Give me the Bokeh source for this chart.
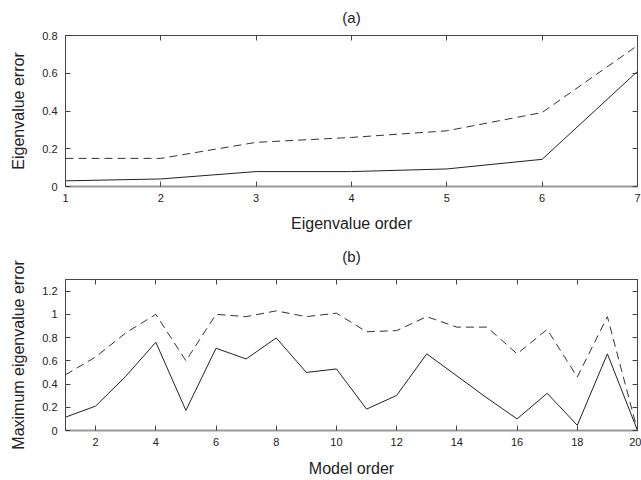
from bokeh.plotting import figure
from bokeh.layouts import column
from bokeh.models import Range1d, LinearAxis, FixedTicker, CustomJSTickFormatter
from bokeh.embed import file_html
from bokeh.resources import INLINE

# ---- data (a) ----
eig_order = [1, 2, 3, 4, 5, 6, 7]
eig_err_solid = [0.03, 0.04, 0.079, 0.079, 0.093, 0.144, 0.61]
eig_err_dashed = [0.149, 0.149, 0.234, 0.26, 0.295, 0.392, 0.747]
a_xticks = [1, 2, 3, 4, 5, 6, 7]
a_yticks = [0, 0.2, 0.4, 0.6, 0.8]
a_ylabels = ["0", "0.2", "0.4", "0.6", "0.8"]

# ---- data (b) ----
model_order = list(range(1, 21))
max_err_solid = [0.115, 0.21, 0.466, 0.76, 0.173, 0.708, 0.616, 0.797, 0.50, 0.53,
                 0.184, 0.302, 0.66, 0.47, 0.28, 0.10, 0.32, 0.045, 0.66, 0.0]
max_err_dashed = [0.48, 0.633, 0.84, 1.0, 0.60, 1.0, 0.98, 1.03, 0.98, 1.01,
                  0.85, 0.86, 0.98, 0.89, 0.89, 0.66, 0.87, 0.46, 0.98, 0.0]
b_xticks = [2, 4, 6, 8, 10, 12, 14, 16, 18, 20]
b_yticks = [0, 0.2, 0.4, 0.6, 0.8, 1.0, 1.2]
b_ylabels = ["0", "0.2", "0.4", "0.6", "0.8", "1", "1.2"]

FONT = "Liberation Sans"


def make_panel(title, xlabel, ylabel, xr, yr, xticks, yticks, ylabels, xs, ys1, ys2,
               height, top, bottom, title_standoff, xlab_standoff):
    p = figure(width=641, height=height, output_backend="svg", toolbar_location=None,
               x_range=Range1d(*xr), y_range=Range1d(*yr),
               min_border_left=65, min_border_right=4,
               min_border_top=top, min_border_bottom=bottom,
               x_axis_label=xlabel, y_axis_label=ylabel)
    p.title.text = title
    p.title.align = "center"
    p.title.vertical_align = "top"
    p.title.text_font = FONT
    p.title.text_font_size = "15px"
    p.title.text_font_style = "normal"
    p.title.text_color = "#222222"
    p.title.standoff = title_standoff
    p.grid.visible = False
    p.outline_line_color = "#444444"
    p.background_fill_color = "white"
    p.border_fill_color = "white"

    p.xaxis.ticker = FixedTicker(ticks=xticks)
    p.yaxis.ticker = FixedTicker(ticks=yticks)
    p.yaxis.major_label_overrides = {t: l for t, l in zip(yticks, ylabels)}
    for ax in p.xaxis + p.yaxis:
        ax.major_tick_in = 5
        ax.major_tick_out = 0
        ax.minor_tick_in = 0
        ax.minor_tick_out = 0
        ax.major_tick_line_color = "#444444"
        ax.major_label_text_font = FONT
        ax.major_label_text_font_size = "11px"
        ax.major_label_text_color = "#222222"
        ax.axis_label_text_font = FONT
        ax.axis_label_text_font_size = "16px"
        ax.axis_label_text_font_style = "normal"
        ax.axis_label_text_color = "#222222"
    p.xaxis.major_label_standoff = 7
    p.xaxis.axis_label_standoff = xlab_standoff
    p.yaxis.major_label_standoff = 8
    p.yaxis.axis_label_standoff = 12
    p.xaxis.axis_line_color = "#9a9a9a"
    p.xaxis.axis_line_width = 2
    p.yaxis.axis_line_color = "#444444"

    blank = CustomJSTickFormatter(code="return ''")
    top_ax = LinearAxis(ticker=FixedTicker(ticks=xticks), formatter=blank)
    right_ax = LinearAxis(ticker=FixedTicker(ticks=yticks), formatter=blank)
    for ax in (top_ax, right_ax):
        ax.major_tick_in = 5
        ax.major_tick_out = 0
        ax.minor_tick_in = 0
        ax.minor_tick_out = 0
        ax.major_label_standoff = 0
        ax.major_label_text_font_size = "0px"
        ax.major_tick_line_color = "#444444"
        ax.axis_line_color = "#444444"
    p.add_layout(top_ax, "above")
    p.add_layout(right_ax, "right")

    p.line(xs, ys2, line_color="#333333", line_width=1, line_dash="8 5")
    p.line(xs, ys1, line_color="#222222", line_width=1)
    return p


pa = make_panel("(a)", "Eigenvalue order", "Eigenvalue error", (1, 7), (0, 0.8),
                a_xticks, a_yticks, a_ylabels, eig_order, eig_err_solid, eig_err_dashed,
                height=234, top=35, bottom=48, title_standoff=15, xlab_standoff=10)
pb = make_panel("(b)", "Model order", "Maximum eigenvalue error", (1, 20), (0, 1.3),
                b_xticks, b_yticks, b_ylabels, model_order, max_err_solid, max_err_dashed,
                height=246, top=45, bottom=50, title_standoff=25, xlab_standoff=11)

layout = column(pa, pb, spacing=0)
open("out.html", "w").write(file_html(layout, INLINE))
